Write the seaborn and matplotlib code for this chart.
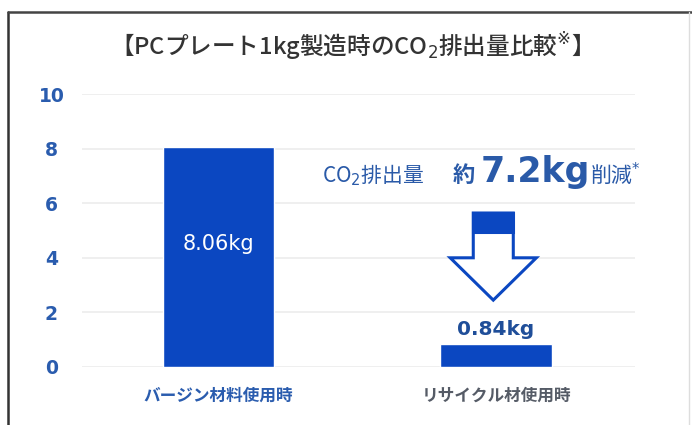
import matplotlib
matplotlib.use("Agg")
import matplotlib.pyplot as plt
import seaborn as sns
import pandas as pd
from matplotlib.patches import Polygon, Rectangle
from matplotlib.lines import Line2D

# DATA
categories = ['バージン材料使用時', 'リサイクル材使用時']
co2_values = [8.06, 0.84]
value_labels = ['8.06kg', '0.84kg']
y_ticks = [0, 2, 4, 6, 8, 10]
title = '【PCプレート1kg製造時のCO$_2$排出量比較$^{※}$】'
reduction = 7.2

# STYLE
sns.set_theme(style="white")
plt.rcParams['font.family'] = ['Noto Sans CJK JP', 'DejaVu Sans']

bar_color = '#0b47c1'
tick_color = '#2a5cae'
grid_color = '#ececec'

df = pd.DataFrame({'cat': categories, 'value': co2_values})

fig = plt.figure(figsize=(6.92, 4.25), dpi=100)
ax = fig.add_axes([82 / 692, (425 - 367) / 425, (635 - 82) / 692, (367 - 94) / 425])

sns.barplot(data=df, x='cat', y='value', color=bar_color, saturation=1,
            width=0.4, ax=ax, zorder=3)

ax.set_ylim(0, 10)
ax.set_xlim(-0.49, 1.5)
ax.set_yticks(y_ticks)
ax.yaxis.grid(True, color=grid_color, lw=1.2, zorder=0)
ax.set_axisbelow(True)
for s in ax.spines.values():
    s.set_visible(False)
ax.set_xlabel('')
ax.set_ylabel('')
ax.tick_params(axis='y', length=0, pad=22, labelsize=13.5, labelcolor=tick_color)
for lbl in ax.get_yticklabels():
    lbl.set_fontweight('bold')
    lbl.set_family(['DejaVu Sans'])
    lbl.set_horizontalalignment('center')
ax.tick_params(axis='x', length=0, pad=14, labelsize=12)
xl = ax.get_xticklabels()
xl[0].set_color(tick_color)
xl[1].set_color('#555b66')
for lbl in xl:
    lbl.set_fontweight('bold')

# value labels
ax.text(0, 4.5, value_labels[0], color='white', ha='center', va='center',
        fontsize=15, family=['DejaVu Sans'], zorder=5)
ax.text(1, co2_values[1] + 0.55, value_labels[1], color='#1f4e99', ha='center',
        va='center', fontsize=14.5, fontweight='bold', family=['DejaVu Sans'], zorder=5)

# hollow down arrow with filled top block
xc = 0.99
sw, hw = 0.072, 0.155
y_top, y_blk, y_neck, y_tip = 5.64, 4.95, 4.0, 2.45
arrow = Polygon([(xc - sw, y_top), (xc + sw, y_top), (xc + sw, y_neck), (xc + hw, y_neck),
                 (xc, y_tip), (xc - hw, y_neck), (xc - sw, y_neck)],
                closed=True, facecolor='white', edgecolor=bar_color, lw=2.2, zorder=4)
ax.add_patch(arrow)
ax.add_patch(Rectangle((xc - sw, y_blk), 2 * sw, y_top - y_blk, facecolor=bar_color,
                       edgecolor=bar_color, lw=2.2, zorder=5))

# reduction headline
ann_color = '#2a5aa8'
base_y = 1 - 182 / 425
fig.text(322 / 692, base_y, 'CO$_2$排出量', color=ann_color, fontsize=15,
         ha='left', va='baseline')
fig.text(453 / 692, base_y, '約', color=ann_color, fontsize=16, fontweight='bold',
         ha='left', va='baseline')
fig.text(481 / 692, base_y, f'{reduction}kg', color=ann_color, fontsize=25,
         fontweight='bold', ha='left', va='baseline', family=['DejaVu Sans'])
fig.text(590 / 692, base_y, '削減$^{*}$', color=ann_color, fontsize=15,
         ha='left', va='baseline')

# title
fig.text(345 / 692, 1 - 47 / 425, title, ha='center', va='center', fontsize=17,
         color='#333333', fontweight='medium')

# outer frame lines
fig.add_artist(Line2D([8 / 692, 8 / 692], [0, 1 - 12 / 425], color='#333333', lw=1.8,
                      transform=fig.transFigure))
fig.add_artist(Line2D([8 / 692, 1], [1 - 12 / 425, 1 - 12 / 425], color='#444444', lw=1.8,
                      transform=fig.transFigure))
fig.add_artist(Line2D([689 / 692, 689 / 692], [0, 1 - 12 / 425], color='#dddddd', lw=1,
                      transform=fig.transFigure))

fig.savefig('out.png', dpi=100)
